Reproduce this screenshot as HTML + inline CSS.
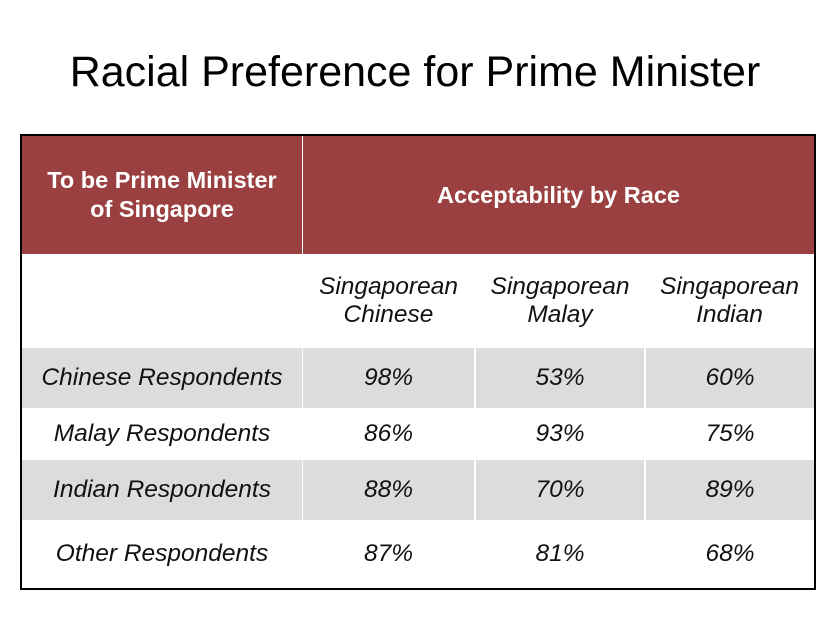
<!DOCTYPE html>
<html><head><style>
body{margin:0;width:830px;height:622px;background:#fff;position:relative;font-family:"Liberation Sans",sans-serif;overflow:hidden}
.t{position:absolute;left:0;width:830px;top:48px;text-align:center;font-size:43px;color:#000}
.tb{position:absolute;left:20px;top:134px;width:792px;height:452px;border:2px solid #000}
.c{position:absolute;display:flex;align-items:center;justify-content:center;text-align:center;box-sizing:border-box}
.h{background:#9b4040;color:#fff;font-weight:bold;font-size:23.5px;line-height:29px}
.g{background:#dcdcdc}
.i{font-style:italic;font-size:24.5px;line-height:28px;color:#111}
</style></head><body>
<div class="t">Racial Preference for Prime Minister</div>
<div class="tb">
<div class="c h" style="left:0;top:0;width:280px;height:118px">To be Prime Minister<br>of Singapore</div>
<div class="c h" style="left:281px;top:0;width:511px;height:118px">Acceptability by Race</div>
<div class="c i" style="left:280px;top:118px;width:173px;height:94px">Singaporean<br>Chinese</div>
<div class="c i" style="left:453px;top:118px;width:170px;height:94px">Singaporean<br>Malay</div>
<div class="c i" style="left:623px;top:118px;width:169px;height:94px">Singaporean<br>Indian</div>

<div class="c i g" style="left:0;top:212px;width:280px;height:60px">Chinese Respondents</div>
<div class="c i g" style="left:281px;top:212px;width:171px;height:60px">98%</div>
<div class="c i g" style="left:454px;top:212px;width:168px;height:60px">53%</div>
<div class="c i g" style="left:624px;top:212px;width:168px;height:60px">60%</div>

<div class="c i" style="left:0;top:272px;width:280px;height:52px">Malay Respondents</div>
<div class="c i" style="left:281px;top:272px;width:171px;height:52px">86%</div>
<div class="c i" style="left:454px;top:272px;width:168px;height:52px">93%</div>
<div class="c i" style="left:624px;top:272px;width:168px;height:52px">75%</div>

<div class="c i g" style="left:0;top:324px;width:280px;height:60px">Indian Respondents</div>
<div class="c i g" style="left:281px;top:324px;width:171px;height:60px">88%</div>
<div class="c i g" style="left:454px;top:324px;width:168px;height:60px">70%</div>
<div class="c i g" style="left:624px;top:324px;width:168px;height:60px">89%</div>

<div class="c i" style="left:0;top:384px;width:280px;height:68px">Other Respondents</div>
<div class="c i" style="left:281px;top:384px;width:171px;height:68px">87%</div>
<div class="c i" style="left:454px;top:384px;width:168px;height:68px">81%</div>
<div class="c i" style="left:624px;top:384px;width:168px;height:68px">68%</div>
</div>
</body></html>
